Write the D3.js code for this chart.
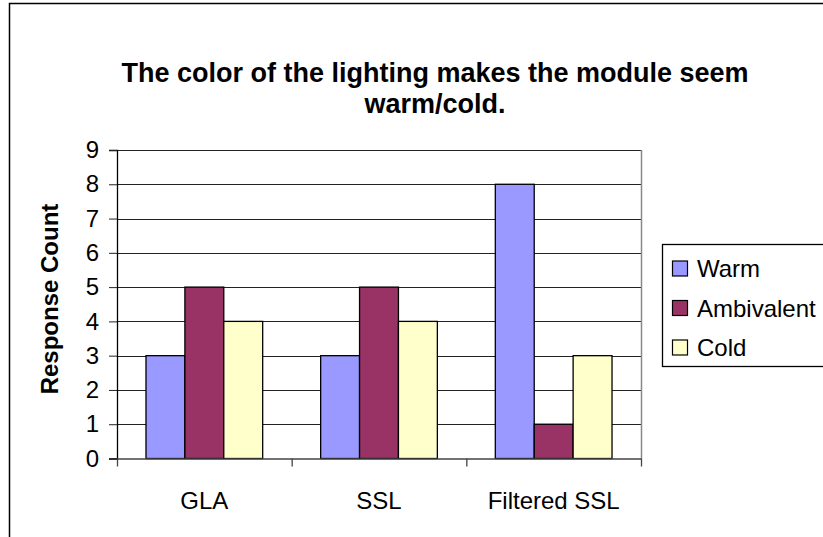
<!DOCTYPE html>
<html><head><meta charset="utf-8">
<script src="https://cdn.jsdelivr.net/npm/d3@7"></script>
<style>html,body{margin:0;padding:0;background:#fff;overflow:hidden}</style>
</head><body>
<svg id="c" width="823" height="537"></svg>
<script>
const categories = ["GLA", "SSL", "Filtered SSL"];
const seriesNames = ["Warm", "Ambivalent", "Cold"];
const warm = [3, 3, 8];
const ambivalent = [5, 5, 1];
const cold = [4, 4, 3];
const yTicks = [0,1,2,3,4,5,6,7,8,9];
const colors = ["#9999FF", "#993366", "#FFFFCC"];
const titleLines = ["The color of the lighting makes the module seem", "warm/cold."];
const yTitle = "Response Count";

const seriesValues = [warm, ambivalent, cold];
const svg = d3.select("#c");
const font = "Arial, 'Liberation Sans', sans-serif";

// chart border
svg.append("rect").attr("x", 9.5).attr("y", 3.5).attr("width", 830).attr("height", 560)
  .attr("fill", "#fff").attr("stroke", "#000").attr("stroke-width", 1.5);

const x0 = 117, x1 = 641, yb = 458.5, yt = 150;
const x = d3.scaleBand().domain(categories).range([x0, x1]).paddingInner(0).paddingOuter(0);
const xs = d3.scaleBand().domain(seriesNames).range([0, x.bandwidth()]).paddingInner(0).paddingOuter(0.745);
const y = d3.scaleLinear().domain([0, 9]).range([yb, yt]);

// gridlines
svg.append("g").selectAll("line").data(yTicks.filter(d => d > 0)).join("line")
  .attr("x1", x0).attr("x2", x1)
  .attr("y1", d => Math.round(y(d)) + 0.5).attr("y2", d => Math.round(y(d)) + 0.5)
  .attr("stroke", "#222").attr("stroke-width", 1);
// right plot border
svg.append("line").attr("x1", x1 + 0.5).attr("x2", x1 + 0.5).attr("y1", yt).attr("y2", yb)
  .attr("stroke", "#888").attr("stroke-width", 1.5);

// bars
categories.forEach((c, i) => {
  seriesNames.forEach((s, j) => {
    const v = seriesValues[j][i];
    svg.append("rect")
      .attr("x", x(c) + xs(s)).attr("y", y(v))
      .attr("width", xs.bandwidth()).attr("height", yb - y(v))
      .attr("fill", colors[j]).attr("stroke", "#000").attr("stroke-width", 1.3);
  });
});

// y axis
const yAxis = d3.axisLeft(y).tickValues(yTicks).tickSize(8).tickPadding(10).tickFormat(d3.format("d"));
const gy = svg.append("g").attr("transform", `translate(${x0},0)`).call(yAxis);
gy.select(".domain").attr("stroke", "#000").attr("stroke-width", 1.3);
gy.selectAll(".tick line").attr("stroke", "#222");
gy.selectAll("text").attr("font-family", font).attr("font-size", 24).attr("fill", "#000");

// x axis
const xAxis = d3.axisBottom(x).tickSize(0).tickPadding(33);
const gx = svg.append("g").attr("transform", `translate(0,${yb})`).call(xAxis);
gx.select(".domain").attr("stroke", "#444").attr("stroke-width", 1.5);
gx.selectAll("text").attr("font-family", font).attr("font-size", 24).attr("fill", "#000");
// category boundary ticks
const bounds = categories.map(c => x(c)).concat([x1]);
svg.append("g").selectAll("line").data(bounds).join("line")
  .attr("x1", d => d + 0.5).attr("x2", d => d + 0.5).attr("y1", yb).attr("y2", yb + 8)
  .attr("stroke", "#444").attr("stroke-width", 1.3);

// title
svg.append("g").selectAll("text").data(titleLines).join("text")
  .attr("x", 435).attr("y", (d, i) => 82 + i * 31)
  .attr("text-anchor", "middle").attr("font-family", font).attr("font-weight", "bold")
  .attr("font-size", 27).text(d => d);

// y title
svg.append("text").attr("transform", "translate(58,299) rotate(-90)")
  .attr("text-anchor", "middle").attr("font-family", font).attr("font-weight", "bold")
  .attr("font-size", 24).text(yTitle);

// legend
const lg = svg.append("g");
lg.append("rect").attr("x", 662.5).attr("y", 244.5).attr("width", 200).attr("height", 122)
  .attr("fill", "#fff").attr("stroke", "#000").attr("stroke-width", 1.3);
seriesNames.forEach((s, i) => {
  const yy = 261 + i * 39.5;
  lg.append("rect").attr("x", 672.5).attr("y", yy).attr("width", 15).attr("height", 15)
    .attr("fill", colors[i]).attr("stroke", "#000").attr("stroke-width", 1.2);
  lg.append("text").attr("x", 697).attr("y", yy + 16)
    .attr("font-family", font).attr("font-size", 24).text(s);
});
</script>
</body></html>
